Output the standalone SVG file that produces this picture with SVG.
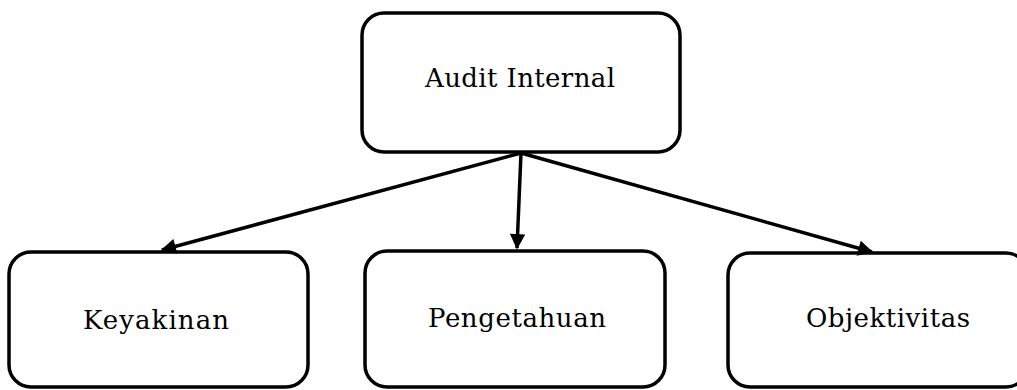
<svg xmlns="http://www.w3.org/2000/svg" width="1017" height="390" viewBox="0 0 1017 390">
<style>
.box{fill:#fff;stroke:#000;stroke-width:3.5}
.lbl{font-family:"DejaVu Serif","Liberation Serif",serif;font-size:26px;fill:#000;text-anchor:middle}
.conn{stroke:#000;stroke-width:3.5;fill:none;marker-end:url(#ah)}
</style>
<defs>
<marker id="ah" viewBox="0 0 10 10" refX="9" refY="5" markerWidth="5.4" markerHeight="4.4" markerUnits="strokeWidth" orient="auto">
<path d="M0,0 L10,5 L0,10 z" fill="#000"/>
</marker>
</defs>
<rect width="1017" height="390" fill="#fff"/>
<g id="node-audit"><rect class="box" x="362" y="13" width="318" height="139" rx="22"/><text class="lbl" x="520" y="87" textLength="190" lengthAdjust="spacing">Audit Internal</text></g>
<g id="node-keyakinan"><rect class="box" x="9" y="252" width="299" height="135" rx="22"/><text class="lbl" x="156" y="329" textLength="146" lengthAdjust="spacing">Keyakinan</text></g>
<g id="node-pengetahuan"><rect class="box" x="365" y="251" width="300" height="136" rx="22"/><text class="lbl" x="517" y="327" textLength="178" lengthAdjust="spacing">Pengetahuan</text></g>
<g id="node-objektivitas"><rect class="box" x="728" y="253" width="300" height="134" rx="22"/><text class="lbl" x="888" y="327" textLength="164" lengthAdjust="spacing">Objektivitas</text></g>
<g id="connectors">
<line class="conn" x1="521" y1="153" x2="162" y2="250"/>
<line class="conn" x1="521" y1="153" x2="517" y2="248"/>
<line class="conn" x1="521" y1="153" x2="872" y2="252"/>
</g>
</svg>
